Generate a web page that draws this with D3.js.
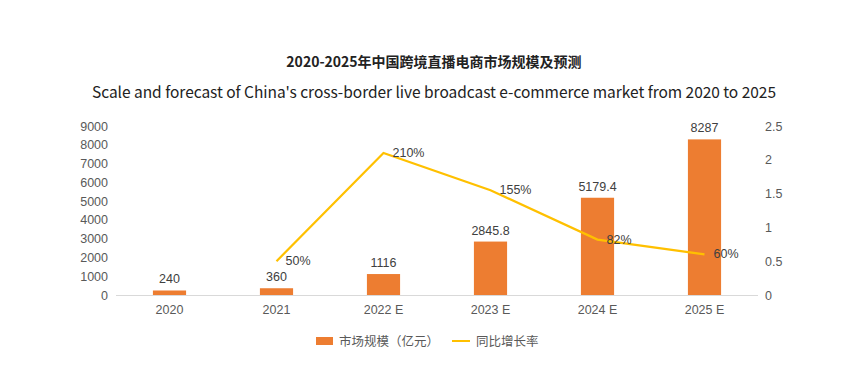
<!DOCTYPE html>
<html><head><meta charset="utf-8">
<script src="https://cdn.jsdelivr.net/npm/d3@7/dist/d3.min.js"></script>
<style>body{margin:0;background:#fff}svg{display:block}</style>
</head><body>
<svg id="c" width="868" height="385"></svg>
<script>
const categories = ["2020","2021","2022 E","2023 E","2024 E","2025 E"];
const marketSize = [240,360,1116,2845.8,5179.4,8287];
const marketLabels = ["240","360","1116","2845.8","5179.4","8287"];
const growth = [null,0.5,2.1,1.55,0.82,0.6];
const growthLabels = [null,"50%","210%","155%","82%","60%"];
const leftTicks = [0,1000,2000,3000,4000,5000,6000,7000,8000,9000];
const leftTickLabels = ["0","1000","2000","3000","4000","5000","6000","7000","8000","9000"];
const rightTicks = [0,0.5,1,1.5,2,2.5];
const rightTickLabels = ["0","0.5","1","1.5","2","2.5"];

const svg = d3.select("#c");
const m = {l:116, r:758, t:126, b:295};
const x = d3.scaleBand().domain(categories).range([m.l,m.r]).paddingInner(0.69).paddingOuter(0.345);
const yL = d3.scaleLinear().domain([0,9000]).range([m.b,m.t]);
const yR = d3.scaleLinear().domain([0,2.5]).range([m.b,m.t]);
const font = "'Liberation Sans', Arial, sans-serif";
const cjk = "'Noto Sans CJK SC', sans-serif";

svg.append("text").attr("x",434).attr("y",67).attr("text-anchor","middle")
  .attr("font-family",cjk).attr("font-weight","bold").attr("font-size",14).attr("fill","#222")
  .text("2020-2025年中国跨境直播电商市场规模及预测");
svg.append("text").attr("x",434).attr("y",98).attr("text-anchor","middle")
  .attr("font-family",cjk).attr("font-size",15.5).attr("fill","#222").attr("textLength",684)
  .text("Scale and forecast of China's cross-border live broadcast e-commerce market from 2020 to 2025");

const gL = svg.append("g").attr("transform",`translate(${m.l},0)`)
  .call(d3.axisLeft(yL).tickValues(leftTicks).tickFormat((d,i)=>leftTickLabels[i]).tickSize(0).tickPadding(8));
gL.select(".domain").remove();
gL.selectAll("text").attr("font-family",font).attr("font-size",12.5).attr("fill","#595959");

const gR = svg.append("g").attr("transform",`translate(${m.r},0)`)
  .call(d3.axisRight(yR).tickValues(rightTicks).tickFormat((d,i)=>rightTickLabels[i]).tickSize(0).tickPadding(7));
gR.select(".domain").remove();
gR.selectAll("text").attr("font-family",font).attr("font-size",12.5).attr("fill","#595959");

svg.append("line").attr("x1",m.l).attr("x2",m.r).attr("y1",m.b+0.5).attr("y2",m.b+0.5).attr("stroke","#d9d9d9");

const gx = svg.append("g").attr("transform",`translate(0,${m.b})`)
  .call(d3.axisBottom(x).tickSize(0).tickPadding(10));
gx.select(".domain").remove();
gx.selectAll("text").attr("font-family",font).attr("font-size",12.5).attr("fill","#595959");

svg.selectAll("rect.bar").data(marketSize).join("rect").attr("class","bar")
  .attr("x",(d,i)=>x(categories[i])).attr("width",x.bandwidth())
  .attr("y",d=>yL(d)).attr("height",d=>m.b-yL(d)).attr("fill","#ED7D31");
svg.selectAll("text.bl").data(marketSize).join("text").attr("class","bl")
  .attr("x",(d,i)=>x(categories[i])+x.bandwidth()/2).attr("y",d=>yL(d)-7)
  .attr("text-anchor","middle").attr("font-family",font).attr("font-size",12.5).attr("fill","#404040")
  .text((d,i)=>marketLabels[i]);

const pts = growth.map((g,i)=>({g,i})).filter(d=>d.g!==null);
const line = d3.line().x(d=>x(categories[d.i])+x.bandwidth()/2).y(d=>yR(d.g));
svg.append("path").datum(pts).attr("d",line).attr("fill","none").attr("stroke","#FFC000").attr("stroke-width",2.2);
svg.selectAll("text.gl").data(pts).join("text").attr("class","gl")
  .attr("x",d=>x(categories[d.i])+x.bandwidth()/2+9).attr("y",d=>yR(d.g)+4)
  .attr("font-family",font).attr("font-size",12.5).attr("fill","#404040")
  .text(d=>growthLabels[d.i]);

svg.append("rect").attr("x",316).attr("y",337).attr("width",17).attr("height",8).attr("fill","#ED7D31");
svg.append("text").attr("x",339).attr("y",346).attr("font-family",cjk).attr("font-size",12.5).attr("fill","#595959").text("市场规模（亿元）");
svg.append("line").attr("x1",452).attr("x2",470).attr("y1",341).attr("y2",341).attr("stroke","#FFC000").attr("stroke-width",2);
svg.append("text").attr("x",476).attr("y",346).attr("font-family",cjk).attr("font-size",12.5).attr("fill","#595959").text("同比增长率");
</script>
</body></html>
